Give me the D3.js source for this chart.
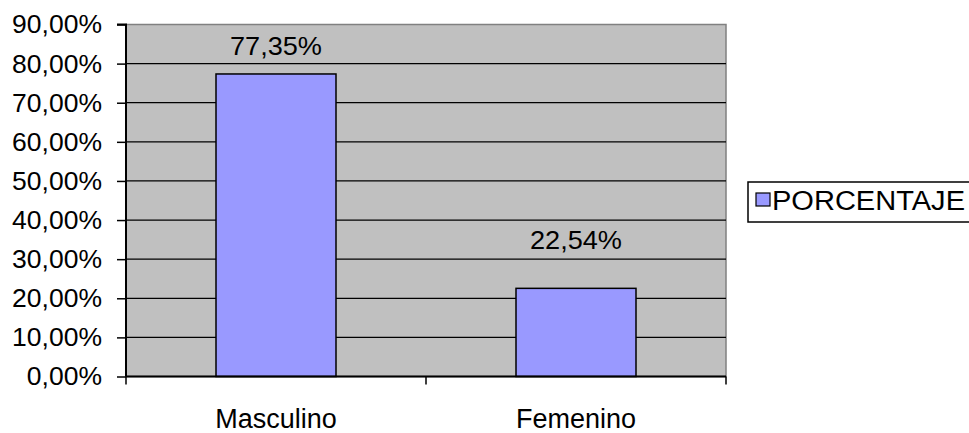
<!DOCTYPE html>
<html><head><meta charset="utf-8">
<script src="https://cdn.jsdelivr.net/npm/d3@7"></script>
<style>body{margin:0;background:#fff;}svg{display:block;font-family:"Liberation Sans",Arial,sans-serif;}</style>
</head><body>
<svg id="c" width="969" height="433"></svg>
<script>
const categories = ["Masculino", "Femenino"];
const values = [77.35, 22.54];
const valueLabels = ["77,35%", "22,54%"];
const labelOffsets = [19, 39];
const yTicks = [0,10,20,30,40,50,60,70,80,90];
const yTickLabels = ["0,00%","10,00%","20,00%","30,00%","40,00%","50,00%","60,00%","70,00%","80,00%","90,00%"];
const seriesName = "PORCENTAJE";

const svg = d3.select("#c");
const L = 126, R = 726, T = 24.5, B = 376.5;
const x = d3.scaleBand().domain(categories).range([L, R]).paddingInner(0).paddingOuter(0);
const y = d3.scaleLinear().domain([0, 90]).range([B, T]);
const fs = 26.5;

svg.append("rect").attr("x", L).attr("y", T).attr("width", R-L).attr("height", B-T)
  .attr("fill", "#C0C0C0").attr("stroke", "#808080").attr("stroke-width", 1.5);

svg.append("g").selectAll("line").data(yTicks.filter(d => d > 0 && d < 90)).join("line")
  .attr("x1", L).attr("x2", R).attr("y1", d => y(d)).attr("y2", d => y(d))
  .attr("stroke", "#000").attr("stroke-width", 1.2);

const bw = x.bandwidth() * 0.4;
svg.append("g").selectAll("rect").data(values).join("rect")
  .attr("x", (d,i) => x(categories[i]) + x.bandwidth()/2 - bw/2)
  .attr("width", bw)
  .attr("y", d => y(d)).attr("height", d => B - y(d))
  .attr("fill", "#9999FF").attr("stroke", "#000").attr("stroke-width", 1.5);

svg.append("g").selectAll("text").data(values).join("text")
  .attr("x", (d,i) => x(categories[i]) + x.bandwidth()/2)
  .attr("y", (d,i) => y(d) - labelOffsets[i])
  .attr("text-anchor", "middle").attr("font-size", fs).attr("fill", "#000")
  .attr("textLength", 92).attr("lengthAdjust", "spacingAndGlyphs")
  .text((d,i) => valueLabels[i]);

// Y axis
const yAxis = d3.axisLeft(y).tickValues(yTicks).tickFormat((d,i) => yTickLabels[i]).tickSize(9).tickPadding(15);
const gy = svg.append("g").attr("transform", `translate(${L},0)`).call(yAxis);
gy.select(".domain").attr("stroke", "#000").attr("stroke-width", 2).attr("d", `M-9,${T}H0V${B}`);
gy.selectAll(".tick line").attr("stroke", "#000").attr("stroke-width", 1.5);
gy.selectAll("text").attr("font-size", fs).attr("fill", "#000").attr("font-family", "Liberation Sans, Arial, sans-serif");

// X axis
const xEdges = [L, L + x.bandwidth(), R];
const gx = svg.append("g");
gx.append("line").attr("x1", L).attr("x2", R).attr("y1", B).attr("y2", B).attr("stroke", "#000").attr("stroke-width", 2);
gx.selectAll("line.t").data(xEdges).join("line").attr("class","t")
  .attr("x1", d => d).attr("x2", d => d).attr("y1", B).attr("y2", B + 8)
  .attr("stroke", "#000").attr("stroke-width", 1.5);
gx.selectAll("text").data(categories).join("text")
  .attr("x", d => x(d) + x.bandwidth()/2).attr("y", 428)
  .attr("text-anchor", "middle").attr("font-size", 27).attr("fill", "#000").text(d => d);

// Legend
const lg = svg.append("g");
lg.append("rect").attr("x", 748).attr("y", 182).attr("width", 240).attr("height", 40)
  .attr("fill", "#fff").attr("stroke", "#000").attr("stroke-width", 1.5);
lg.append("rect").attr("x", 756).attr("y", 193).attr("width", 14).attr("height", 13)
  .attr("fill", "#9999FF").attr("stroke", "#000").attr("stroke-width", 1.2);
lg.append("text").attr("x", 772).attr("y", 210).attr("font-size", 27).attr("fill", "#000")
  .attr("textLength", 193).attr("lengthAdjust", "spacingAndGlyphs").text(seriesName);
</script>
</body></html>
